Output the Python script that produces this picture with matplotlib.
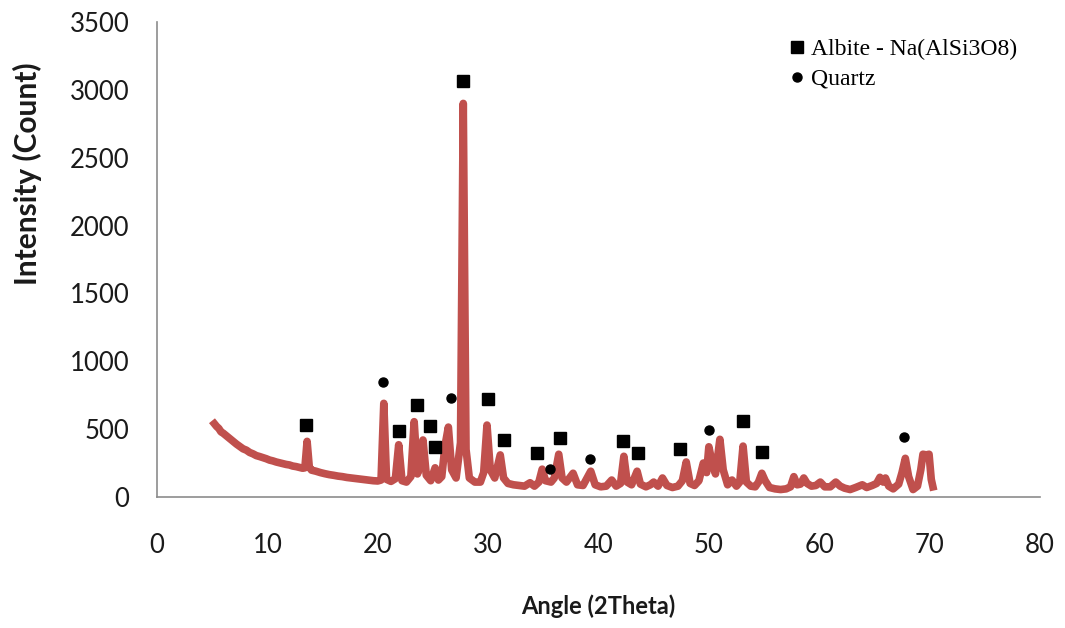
import matplotlib.pyplot as plt

# XRD pattern (2theta in degrees, counts)
two_theta = [
    5.2, 5.4, 5.6, 5.8, 6.0, 6.3, 6.6, 6.9, 7.2, 7.5, 7.8, 8.1, 8.4, 8.7, 9.0,
    9.3, 9.6, 9.9, 10.2, 10.5, 10.8, 11.1, 11.4, 11.7, 12.0, 12.3, 12.6, 12.9,
    13.2, 13.4, 13.6, 13.8, 14.0, 14.4, 14.8, 15.2, 15.6, 16.0, 16.4, 16.8,
    17.2, 17.6, 18.0, 18.4, 18.8, 19.2, 19.6, 20.0, 20.3, 20.55, 20.8, 21.2,
    21.6, 21.9, 22.2, 22.6, 23.0, 23.3, 23.6, 23.9, 24.1, 24.4, 24.8, 25.2,
    25.5, 25.8, 26.1, 26.4, 26.7, 27.1, 27.5, 27.75, 28.0, 28.3, 28.8, 29.3,
    29.6, 29.9, 30.2, 30.6, 31.1, 31.4, 31.8, 32.3, 32.8, 33.3, 33.8, 34.2,
    34.6, 34.9, 35.2, 35.7, 36.0, 36.4, 36.7, 37.1, 37.7, 38.1, 38.6, 39.3,
    39.7, 40.2, 40.7, 41.2, 41.6, 42.0, 42.3, 42.6, 43.0, 43.5, 43.8, 44.3,
    44.7, 45.0, 45.4, 45.8, 46.2, 46.7, 47.2, 47.6, 47.95, 48.3, 48.7, 49.1,
    49.5, 49.8, 50.0, 50.3, 50.6, 51.0, 51.3, 51.7, 52.1, 52.5, 52.8, 53.1,
    53.4, 53.8, 54.2, 54.5, 54.8, 55.1, 55.5, 56.0, 56.5, 57.0, 57.4, 57.7,
    58.0, 58.3, 58.6, 58.9, 59.3, 59.7, 60.1, 60.5, 61.0, 61.5, 61.9, 62.3,
    62.8, 63.3, 63.9, 64.3, 64.8, 65.2, 65.5, 65.8, 66.0, 66.3, 66.7, 67.2,
    67.5, 67.8, 68.1, 68.5, 68.9, 69.2, 69.4, 69.7, 69.95, 70.15, 70.3,
]
intensity = [
    540, 520, 505, 480, 470, 450, 430, 410, 390, 372, 355, 345, 328, 318, 305,
    298, 290, 282, 272, 266, 258, 252, 246, 240, 236, 228, 224, 218,
    212, 215, 410, 220, 198, 190, 180, 172, 165, 160, 154, 150,
    144, 140, 136, 132, 128, 124, 120, 118, 125, 690, 130, 115,
    135, 385, 120, 110, 150, 555, 170, 240, 420, 160, 120, 215,
    125, 150, 380, 515, 200, 140, 400, 2900, 350, 140, 110, 110,
    180, 530, 200, 140, 310, 140, 100, 90, 85, 80, 105, 80,
    110, 205, 120, 110, 140, 315, 140, 110, 175, 90, 85, 190,
    90, 75, 80, 125, 80, 100, 300, 110, 90, 190, 95, 75,
    90, 110, 80, 140, 85, 70, 80, 120, 258, 100, 85, 120,
    250, 180, 370, 250, 170, 425, 200, 90, 125, 80, 110, 375,
    110, 80, 75, 110, 175, 120, 70, 60, 55, 60, 75, 150,
    90, 95, 140, 100, 80, 85, 110, 75, 75, 110, 80, 65,
    55, 70, 90, 70, 85, 100, 145, 110, 140, 80, 60, 95,
    180, 285, 150, 55, 80, 200, 315, 310, 315, 130, 75,
]

# phase markers
albite_x = [13.5, 21.9, 23.6, 24.7, 25.2, 27.7, 30.0, 31.4, 34.45, 36.5,
            42.25, 43.6, 47.4, 53.1, 54.8]
albite_y = [530, 487, 678, 523, 369, 3066, 722, 420, 324, 435,
            413, 324, 354, 560, 332]
quartz_x = [20.5, 26.65, 35.6, 39.2, 50.05, 67.7]
quartz_y = [850, 730, 206, 280, 494, 442]

fig = plt.figure(figsize=(10.65, 6.28), dpi=100)
ax = fig.add_axes([0.1474, 0.2086, 0.8291, 0.7564])

ax.plot(two_theta, intensity, color="#C0504D", lw=5.5, solid_joinstyle="round",
        zorder=2)
albite, = ax.plot(albite_x, albite_y, ls="none", marker="s", ms=8,
                  color="black", zorder=3, label="Albite - Na(AlSi3O8)")
quartz, = ax.plot(quartz_x, quartz_y, ls="none", marker="o", ms=6.5,
                  color="black", zorder=3, label="Quartz")

ax.set_xlim(0, 80)
ax.set_ylim(0, 3500)
ax.set_xticks(range(0, 81, 10))
ax.set_yticks(range(0, 3501, 500))
ax.tick_params(length=0, labelsize=18.5)
ax.tick_params(axis="x", pad=26)
ax.tick_params(axis="y", pad=20)
for lbl in ax.get_xticklabels() + ax.get_yticklabels():
    lbl.set_family("Lato")
    lbl.set_color("#1a1a1a")

for side in ["top", "right"]:
    ax.spines[side].set_visible(False)
for side in ["left", "bottom"]:
    ax.spines[side].set_color("#8c8c8c")
    ax.spines[side].set_linewidth(1.2)

ax.set_xlabel("Angle (2Theta)", family="Lato", fontsize=17, fontweight="bold",
              color="#1a1a1a")
ax.set_ylabel("Intensity (Count)", family="Lato", fontsize=21.5,
              fontweight="bold", color="#1a1a1a")
ax.xaxis.set_label_coords(0.5, -0.206)
ax.yaxis.set_label_coords(-0.13, 0.68)

ax.legend(handles=[albite, quartz], loc="upper left",
          bbox_to_anchor=(0.693, 1.0), frameon=False,
          prop={"family": "Liberation Serif", "size": 17},
          handletextpad=0.1, handlelength=1.0, labelspacing=0.35,
          borderaxespad=0.3)

fig.savefig("out.png", dpi=100)
